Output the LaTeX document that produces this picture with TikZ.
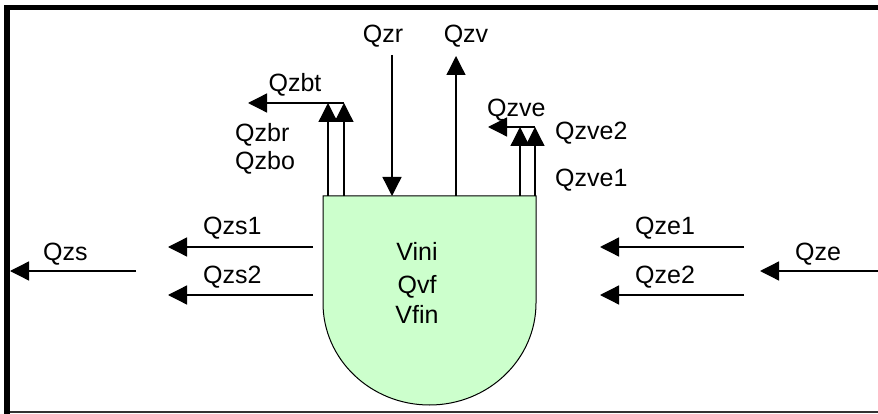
\documentclass[tikz,border=0pt]{standalone}
\usepackage{fontspec}
\setmainfont{Liberation Sans}
\usetikzlibrary{arrows.meta}
\definecolor{verdetanque}{RGB}{204,255,204}
\tikzset{
  flujo/.style={line width=1.3pt, -{Triangle[length=19pt,width=19pt]}},
  etiq/.style={font=\fontsize{25}{30}\selectfont, inner sep=0pt},
}
\begin{document}
\begin{tikzpicture}[x=1pt,y=-1pt]
        \useasboundingbox (0,0) rectangle (878,414);
        % Marco
        \draw[line width=5.5pt] (7,414) -- (7,7.5) -- (878,7.5);
        \draw[line width=1.2pt, black!80] (10,412) -- (878,412);
        % Deposito
        \filldraw[fill=verdetanque, draw=black, line width=1pt] (323,196) -- (323,303)
            arc[start angle=180, end angle=0, x radius=106.5, y radius=102] -- (536,196) -- cycle;
        \node[etiq, anchor=base] (vini) at (417,260) {Vini};
        \node[etiq, anchor=base] (qvf) at (417,293) {Qvf};
        \node[etiq, anchor=base] (vfin) at (417,323) {Vfin};
        % Puntos de las flechas
        \coordinate (zrA) at (392,55);   \coordinate (zrB) at (392,196);
        \coordinate (zvA) at (456,196);  \coordinate (zvB) at (456,56);
        \coordinate (zbrA) at (328,196); \coordinate (zbrB) at (328,103);
        \coordinate (zboA) at (344,196); \coordinate (zboB) at (344,103);
        \coordinate (zbtB) at (248,103);
        \coordinate (zve1A) at (520,196); \coordinate (zve1B) at (520,127);
        \coordinate (zve2A) at (535,196); \coordinate (zve2B) at (535,127);
        \coordinate (zveB) at (488,127);
        \coordinate (zs1A) at (313,247); \coordinate (zs1B) at (168,247);
        \coordinate (zs2A) at (313,295); \coordinate (zs2B) at (168,295);
        \coordinate (zsA) at (136,271);  \coordinate (zsB) at (10,271);
        \coordinate (ze1A) at (744,247); \coordinate (ze1B) at (600,247);
        \coordinate (ze2A) at (744,295); \coordinate (ze2B) at (600,295);
        \coordinate (zeA) at (878,271);  \coordinate (zeB) at (760,271);
        % Flujos de arriba
        \draw[flujo] (zrA) -- (zrB);
        \draw[flujo] (zvA) -- (zvB);
        \draw[flujo] (zbrA) -- (zbrB);
        \draw[flujo] (zboA) -- (zboB);
        \draw[flujo] (zboB) -- (zbtB);
        \draw[flujo] (zve1A) -- (zve1B);
        \draw[flujo] (zve2A) -- (zve2B);
        \draw[flujo] (zve2B) -- (zveB);
        % Salidas (izquierda)
        \draw[flujo] (zs1A) -- (zs1B);
        \draw[flujo] (zs2A) -- (zs2B);
        \draw[flujo] (zsA) -- (zsB);
        % Entradas (derecha)
        \draw[flujo] (ze1A) -- (ze1B);
        \draw[flujo] (ze2A) -- (ze2B);
        \draw[flujo] (zeA) -- (zeB);
        % Etiquetas
        \node[etiq, anchor=base] (zr) at (383,43) {Qzr};
        \node[etiq, anchor=base] (zv) at (466,43) {Qzv};
        \node[etiq, anchor=base] (zbt) at (295,92) {Qzbt};
        \node[etiq, anchor=base west] (zbr) at (235,142) {Qzbr};
        \node[etiq, anchor=base west] (zbo) at (235,170) {Qzbo};
        \node[etiq, anchor=base west] (zve) at (487,117) {Qzve};
        \node[etiq, anchor=base west] (zve2) at (555,140) {Qzve2};
        \node[etiq, anchor=base west] (zve1) at (555,187) {Qzve1};
        \node[etiq, anchor=base west] (zs1) at (203,235) {Qzs1};
        \node[etiq, anchor=base west] (zs2) at (203,283) {Qzs2};
        \node[etiq, anchor=base west] (zs) at (43,260) {Qzs};
        \node[etiq, anchor=base west] (ze1) at (635,235) {Qze1};
        \node[etiq, anchor=base west] (ze2) at (635,283) {Qze2};
        \node[etiq, anchor=base west] (ze) at (795,260) {Qze};
\end{tikzpicture}
\end{document}
